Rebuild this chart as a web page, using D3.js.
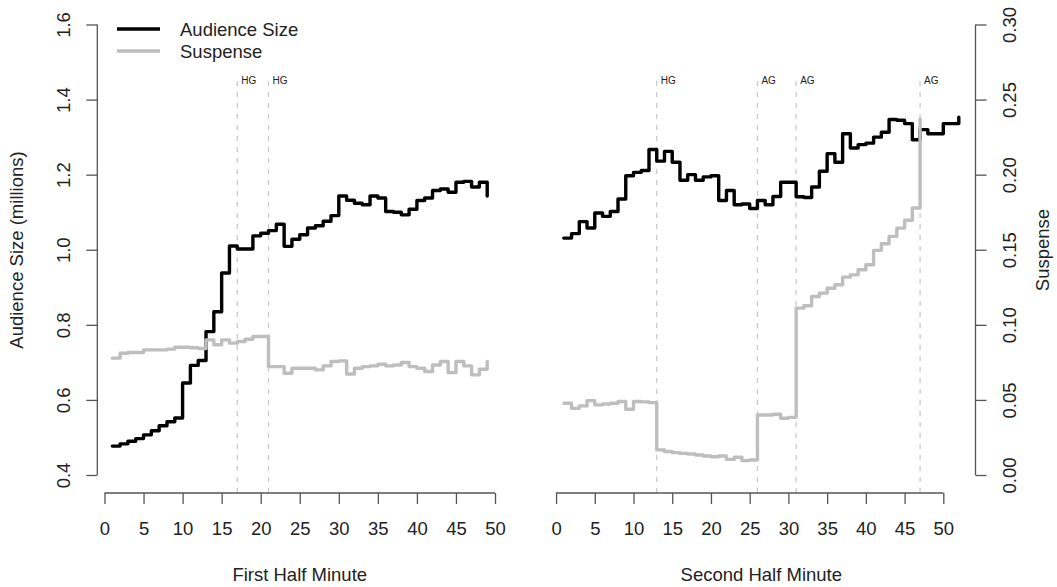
<!DOCTYPE html>
<html>
<head>
<meta charset="utf-8">
<script src="https://cdn.jsdelivr.net/npm/d3@7"></script>
<style>
  html, body { margin: 0; padding: 0; background: #fff; }
  svg { display: block; font-family: "Liberation Sans", Arial, Helvetica, sans-serif; }
</style>
</head>
<body>
<svg id="chart" width="1057" height="587"></svg>
<script>
// ---- data ----
var minutesFirst = d3.range(1, 50);     // 1..49
var minutesSecond = d3.range(1, 53);    // 1..52

var audienceFirst = [
  0.477, 0.483, 0.490, 0.497, 0.507, 0.518, 0.531, 0.542, 0.552, 0.645,
  0.692, 0.705, 0.782, 0.835, 0.938, 1.010, 1.002, 1.002, 1.037, 1.044,
  1.051, 1.068, 1.009, 1.028, 1.040, 1.058, 1.064, 1.076, 1.091, 1.143,
  1.132, 1.124, 1.120, 1.143, 1.138, 1.102, 1.100, 1.093, 1.108, 1.131,
  1.138, 1.158, 1.162, 1.153, 1.180, 1.182, 1.167, 1.180, 1.143
];
var suspenseFirst = [
  0.0778, 0.0811, 0.0816, 0.0816, 0.0833, 0.0833, 0.0833, 0.0838, 0.0851, 0.0851,
  0.0847, 0.0842, 0.0900, 0.0867, 0.0900, 0.0878, 0.0889, 0.0904, 0.0922, 0.0922,
  0.0722, 0.0722, 0.0678, 0.0711, 0.0711, 0.0711, 0.0700, 0.0727, 0.0756, 0.0760,
  0.0673, 0.0711, 0.0722, 0.0727, 0.0738, 0.0727, 0.0733, 0.0749, 0.0722, 0.0711,
  0.0689, 0.0733, 0.0756, 0.0682, 0.0756, 0.0727, 0.0667, 0.0704, 0.0756
];
var audienceSecond = [
  1.031, 1.043, 1.075, 1.058, 1.098, 1.089, 1.102, 1.135, 1.197, 1.206,
  1.211, 1.267, 1.236, 1.262, 1.233, 1.185, 1.200, 1.185, 1.194, 1.197,
  1.131, 1.158, 1.120, 1.122, 1.110, 1.131, 1.120, 1.142, 1.180, 1.180,
  1.141, 1.139, 1.167, 1.209, 1.256, 1.233, 1.309, 1.271, 1.280, 1.284,
  1.300, 1.313, 1.347, 1.345, 1.336, 1.293, 1.320, 1.309, 1.309, 1.336,
  1.336, 1.353
];
var suspenseSecond = [
  0.0478, 0.0444, 0.0460, 0.0495, 0.0467, 0.0473, 0.0478, 0.0489, 0.0438, 0.0489,
  0.0487, 0.0482, 0.0167, 0.0156, 0.0149, 0.0144, 0.0140, 0.0133, 0.0127, 0.0122,
  0.0127, 0.0104, 0.0118, 0.0096, 0.0100, 0.0400, 0.0400, 0.0405, 0.0378, 0.0384,
  0.1111, 0.1127, 0.1189, 0.1211, 0.1244, 0.1267, 0.1318, 0.1333, 0.1367, 0.1400,
  0.1496, 0.1540, 0.1589, 0.1644, 0.1696, 0.1778, 0.2370
];

var goalMinutesFirst = [17, 21];
var goalLabelsFirst = ["HG", "HG"];
var goalMinutesSecond = [13, 26, 31, 47];
var goalLabelsSecond = ["HG", "AG", "AG", "AG"];

var minuteTicks = [0, 5, 10, 15, 20, 25, 30, 35, 40, 45, 50];
var audienceTicks = [0.4, 0.6, 0.8, 1.0, 1.2, 1.4, 1.6];
var suspenseTicks = [0, 0.05, 0.10, 0.15, 0.20, 0.25, 0.30];
var seriesNames = ["Audience Size", "Suspense"];

// ---- layout ----
var FS = 18.5;                     // base font size
var INK = "#222", AXIS = "#555";
var BLACK = "#000", GRAY = "#bebebe", DASH = "#c6c6c6";
var plotBottom = 493, goalTop = 1.45;

var svg = d3.select("#chart");
var yAud = d3.scaleLinear().domain([0.4, 1.6]).range([475, 24.5]);
var ySus = d3.scaleLinear().domain([0, 0.3]).range([475, 24.5]);

var panels = [
  { m: minutesFirst, aud: audienceFirst, sus: suspenseFirst,
    goals: goalMinutesFirst, labels: goalLabelsFirst, title: "First Half Minute",
    x: d3.scaleLinear().domain([-0.92, 50.92]).range([97.3, 502.2]) },
  { m: minutesSecond, aud: audienceSecond, sus: suspenseSecond,
    goals: goalMinutesSecond, labels: goalLabelsSecond, title: "Second Half Minute",
    x: d3.scaleLinear().domain([-1.04, 54.04]).range([548, 974.6]) }
];

panels.forEach(function (p) {
  var g = svg.append("g");
  var x = p.x;

  // goal markers
  p.goals.forEach(function (m, i) {
    g.append("line")
      .attr("x1", x(m)).attr("x2", x(m))
      .attr("y1", plotBottom).attr("y2", yAud(goalTop))
      .attr("stroke", DASH).attr("stroke-width", 1.2)
      .attr("stroke-dasharray", "5,6");
    g.append("text")
      .attr("x", x(m) + 4).attr("y", yAud(goalTop))
      .attr("dy", "0.35em")
      .attr("font-size", 10).attr("fill", INK)
      .text(p.labels[i]);
  });

  // step lines (R type = "s")
  var audLine = d3.line().curve(d3.curveStepAfter)
    .x(function (d, i) { return x(p.m[i]); })
    .y(function (d) { return yAud(d); });
  var susLine = d3.line().curve(d3.curveStepAfter)
    .x(function (d, i) { return x(p.m[i]); })
    .y(function (d) { return ySus(d); });

  g.append("path").attr("d", audLine(p.aud))
    .attr("fill", "none").attr("stroke", BLACK).attr("stroke-width", 3.4)
    .attr("stroke-linejoin", "round").attr("stroke-linecap", "round");
  g.append("path").attr("d", susLine(p.sus))
    .attr("fill", "none").attr("stroke", GRAY).attr("stroke-width", 3.4)
    .attr("stroke-linejoin", "round").attr("stroke-linecap", "round");

  // x axis
  var ax = g.append("g").attr("transform", "translate(0," + plotBottom + ")")
    .call(d3.axisBottom(x).tickValues(minuteTicks).tickSize(11).tickSizeOuter(0).tickFormat(d3.format("d")));
  ax.select(".domain").remove();
  ax.append("line").attr("x1", x(0)).attr("x2", x(50)).attr("stroke", AXIS).attr("stroke-width", 1.3);
  ax.selectAll(".tick line").attr("stroke", AXIS).attr("stroke-width", 1.3);
  ax.selectAll(".tick text").attr("y", 35.5).attr("dy", "0.35em")
    .attr("font-size", FS).attr("font-family", null).attr("fill", INK);

  svg.append("text")
    .attr("x", (x.range()[0] + x.range()[1]) / 2).attr("y", 575).attr("dy", "0.35em")
    .attr("text-anchor", "middle").attr("font-size", FS).attr("fill", INK)
    .text(p.title);
});

// left y axis (audience)
var axL = svg.append("g").attr("transform", "translate(97.3,0)")
  .call(d3.axisLeft(yAud).tickValues(audienceTicks).tickSize(11).tickSizeOuter(0).tickFormat(d3.format(".1f")));
axL.select(".domain").remove();
axL.append("line").attr("y1", yAud(0.4)).attr("y2", yAud(1.6)).attr("stroke", AXIS).attr("stroke-width", 1.3);
axL.selectAll(".tick line").attr("stroke", AXIS).attr("stroke-width", 1.3);
axL.selectAll(".tick text").attr("x", null).attr("dy", "0.35em")
  .attr("transform", "translate(-34,0) rotate(-90)").attr("text-anchor", "middle")
  .attr("font-size", FS).attr("font-family", null).attr("fill", INK);

svg.append("text")
  .attr("transform", "translate(17,250) rotate(-90)").attr("dy", "0.35em")
  .attr("text-anchor", "middle").attr("font-size", FS).attr("fill", INK)
  .text("Audience Size (millions)");

// right y axis (suspense)
var axR = svg.append("g").attr("transform", "translate(975.5,0)")
  .call(d3.axisRight(ySus).tickValues(suspenseTicks).tickSize(11).tickSizeOuter(0).tickFormat(d3.format(".2f")));
axR.select(".domain").remove();
axR.append("line").attr("y1", ySus(0)).attr("y2", ySus(0.3)).attr("stroke", AXIS).attr("stroke-width", 1.3);
axR.selectAll(".tick line").attr("stroke", AXIS).attr("stroke-width", 1.3);
axR.selectAll(".tick text").attr("x", null).attr("dy", "0.35em")
  .attr("transform", "translate(34.5,0) rotate(-90)").attr("text-anchor", "middle")
  .attr("font-size", FS).attr("font-family", null).attr("fill", INK);

svg.append("text")
  .attr("transform", "translate(1043,250) rotate(-90)").attr("dy", "0.35em")
  .attr("text-anchor", "middle").attr("font-size", FS).attr("fill", INK)
  .text("Suspense");

// legend
var legend = svg.append("g");
[BLACK, GRAY].forEach(function (c, i) {
  var yy = 29 + i * 22;
  legend.append("line").attr("x1", 117).attr("x2", 160).attr("y1", yy).attr("y2", yy)
    .attr("stroke", c).attr("stroke-width", 3.4);
  legend.append("text").attr("x", 180).attr("y", yy + 1).attr("dy", "0.35em")
    .attr("font-size", FS).attr("fill", INK).text(seriesNames[i]);
});
</script>
</body>
</html>
